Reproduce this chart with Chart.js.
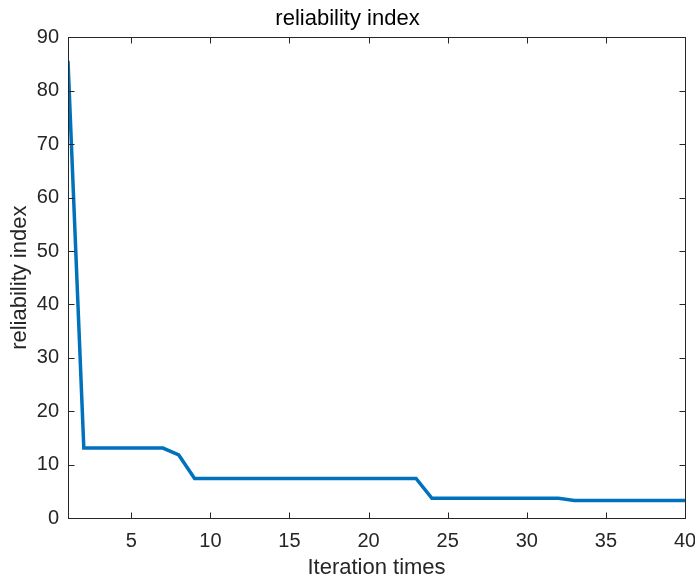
<!DOCTYPE html>
<html>
<head>
<meta charset="utf-8">
<script src="https://cdn.jsdelivr.net/npm/chart.js@4/dist/chart.umd.min.js"></script>
<style>
  html, body { margin: 0; padding: 0; background: #fff; }
  #wrap { width: 695px; height: 577px; }
</style>
</head>
<body>
<div id="wrap"><canvas id="relChart" width="695" height="577"></canvas></div>
<script>
const iterations = [1, 2, 3, 4, 5, 6, 7, 8, 9, 10,
  11, 12, 13, 14, 15, 16, 17, 18, 19, 20,
  21, 22, 23, 24, 25, 26, 27, 28, 29, 30,
  31, 32, 33, 34, 35, 36, 37, 38, 39, 40];
const reliability = [85.6, 13.1, 13.1, 13.1, 13.1, 13.1, 13.1, 11.8, 7.4, 7.4,
  7.4, 7.4, 7.4, 7.4, 7.4, 7.4, 7.4, 7.4, 7.4, 7.4,
  7.4, 7.4, 7.4, 3.7, 3.7, 3.7, 3.7, 3.7, 3.7, 3.7,
  3.7, 3.7, 3.3, 3.3, 3.3, 3.3, 3.3, 3.3, 3.3, 3.3];
const xTicks = [5, 10, 15, 20, 25, 30, 35, 40];
const yTicks = [0, 10, 20, 30, 40, 50, 60, 70, 80, 90];

const axisColor = '#262626';
const fontFamily = '"Liberation Sans", Arial, Helvetica, sans-serif';

// MATLAB style box with inward ticks on all four sides
const boxPlugin = {
  id: 'matlabBox',
  afterDraw(chart) {
    const { ctx, chartArea: a, scales } = chart;
    const len = 6;
    ctx.save();
    ctx.strokeStyle = axisColor;
    ctx.lineWidth = 1;
    const l = Math.round(a.left) + 0.5, r = Math.round(a.right) + 0.5;
    const t = Math.round(a.top) + 0.5, b = Math.round(a.bottom) + 0.5;
    ctx.strokeRect(l, t, r - l, b - t);
    ctx.beginPath();
    xTicks.forEach(v => {
      const x = Math.round(scales.x.getPixelForValue(v)) + 0.5;
      ctx.moveTo(x, b); ctx.lineTo(x, b - len);
      ctx.moveTo(x, t); ctx.lineTo(x, t + len);
    });
    yTicks.forEach(v => {
      const y = Math.round(scales.y.getPixelForValue(v)) + 0.5;
      ctx.moveTo(l, y); ctx.lineTo(l + len, y);
      ctx.moveTo(r, y); ctx.lineTo(r - len, y);
    });
    ctx.stroke();
    ctx.restore();
  }
};

const ctx = document.getElementById('relChart').getContext('2d');
new Chart(ctx, {
  type: 'line',
  data: {
    datasets: [{
      label: 'reliability index',
      data: iterations.map((it, i) => ({ x: it, y: reliability[i] })),
      borderColor: '#0072BD',
      borderWidth: 3.5,
      pointRadius: 0,
      tension: 0,
      fill: false
    }]
  },
  options: {
    responsive: false,
    animation: false,
    layout: { padding: { left: 0, right: 0, top: 0, bottom: 0 } },
    plugins: {
      legend: { display: false },
      tooltip: { enabled: false },
      title: {
        display: true,
        text: 'reliability index',
        color: '#000',
        font: { family: fontFamily, size: 22, weight: 'normal' },
        padding: { top: 6, bottom: 5 }
      }
    },
    scales: {
      x: {
        type: 'linear',
        min: 1,
        max: 40,
        afterBuildTicks: s => { s.ticks = xTicks.map(v => ({ value: v })); },
        afterFit: s => { s.height = 59; s.paddingLeft = 0; s.paddingRight = 10; },
        grid: { display: false, drawTicks: false },
        border: { display: false },
        ticks: { color: axisColor, padding: 11, maxRotation: 0, autoSkip: false,
                 font: { family: fontFamily, size: 20 } },
        title: { display: true, text: 'Iteration times', color: axisColor, padding: { top: 0, bottom: -4 },
                 font: { family: fontFamily, size: 22 } }
      },
      y: {
        min: 0,
        max: 90,
        afterBuildTicks: s => { s.ticks = yTicks.map(v => ({ value: v })); },
        afterFit: s => { s.width = 68; },
        grid: { display: false, drawTicks: false },
        border: { display: false },
        ticks: { color: axisColor, padding: 9, font: { family: fontFamily, size: 20 } },
        title: { display: true, text: 'reliability index', color: axisColor, padding: { top: 7, bottom: 0 },
                 font: { family: fontFamily, size: 22 } }
      }
    }
  },
  plugins: [boxPlugin]
});
</script>
</body>
</html>
